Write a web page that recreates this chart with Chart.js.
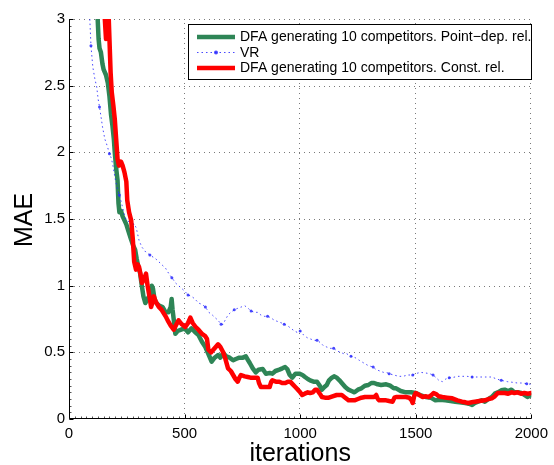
<!DOCTYPE html>
<html>
<head>
<meta charset="utf-8">
<script src="https://cdn.jsdelivr.net/npm/chart.js@4.4.1/dist/chart.umd.min.js"></script>
<style>
  html, body { margin: 0; padding: 0; background: #fff; }
  canvas { display: block; }
</style>
</head>
<body>
<canvas id="chart" width="554" height="465"></canvas>
<script>
// Series names, in legend order
const seriesLabels = [
  'DFA generating 10 competitors. Point\u2212dep. rel.',
  'VR',
  'DFA generating 10 competitors. Const. rel.'
];
const xTitle = 'iterations';
const yTitle = 'MAE';

// Axis ticks
const xTicks = [0, 500, 1000, 1500, 2000];
const yTicks = [0, 0.5, 1, 1.5, 2, 2.5, 3];

// DFA, point-dependent reliability
const dfaPointIter = [110,124,128,132,138,145,150,160,168,175,182,188,194,198,204,210,214,218,225,232,240,248,257,268,278,286,293,300,307,315,322,330,340,350,358,363,370,378,390,405,418,430,440,444,448,455,460,470,485,500,515,530,546,560,575,590,605,617,630,645,655,667,680,695,710,722,737,752,765,775,782,795,808,820,838,852,868,880,893,910,923,935,944,955,966,980,996,1010,1021,1033,1043,1058,1073,1085,1094,1105,1115,1125,1137,1148,1158,1170,1180,1195,1209,1222,1235,1250,1265,1280,1295,1308,1320,1335,1350,1372,1390,1405,1415,1435,1457,1480,1500,1520,1543,1565,1585,1605,1628,1650,1671,1690,1714,1730,1744,1756,1769,1785,1799,1815,1829,1842,1855,1870,1885,1900,1914,1927,1942,1957,1970,1983,2000];
const dfaPointMae = [3.2,3.0,2.85,2.78,2.75,2.66,2.62,2.58,2.52,2.42,2.28,2.2,2.1,2.0,1.88,1.79,1.62,1.55,1.56,1.52,1.49,1.46,1.41,1.35,1.3,1.27,1.2,1.14,1.1,1.0,0.92,0.87,0.9,0.93,1.0,0.98,0.9,0.87,0.85,0.84,0.8,0.8,0.84,0.9,0.82,0.72,0.64,0.66,0.67,0.68,0.65,0.68,0.65,0.63,0.58,0.54,0.48,0.43,0.46,0.48,0.46,0.495,0.47,0.46,0.44,0.45,0.46,0.46,0.47,0.44,0.42,0.38,0.35,0.37,0.375,0.34,0.345,0.34,0.36,0.37,0.38,0.39,0.375,0.33,0.31,0.34,0.34,0.33,0.315,0.3,0.29,0.28,0.28,0.25,0.22,0.24,0.255,0.29,0.31,0.32,0.31,0.29,0.27,0.24,0.22,0.21,0.2,0.22,0.23,0.25,0.255,0.27,0.27,0.26,0.255,0.26,0.25,0.23,0.23,0.21,0.2,0.2,0.195,0.18,0.165,0.16,0.14,0.145,0.14,0.135,0.13,0.125,0.12,0.115,0.105,0.12,0.13,0.14,0.13,0.15,0.165,0.19,0.2,0.215,0.22,0.21,0.22,0.2,0.2,0.195,0.18,0.165,0.18];

// VR
const vrIter = [85,90,95,103,112,120,126,132,140,145,155,165,175,182,188,200,210,218,230,240,248,260,275,290,303,315,333,350,376,400,418,432,445,461,474,487,500,515,530,545,560,575,590,605,620,632,645,658,667,675,688,700,715,730,745,760,775,788,802,816,830,845,859,872,889,905,920,931,945,960,975,987,1000,1015,1030,1045,1060,1073,1090,1100,1115,1130,1145,1160,1175,1188,1201,1220,1238,1256,1275,1295,1316,1329,1345,1360,1372,1385,1405,1427,1445,1465,1487,1500,1520,1543,1560,1575,1585,1600,1615,1630,1645,1658,1680,1700,1722,1744,1770,1800,1829,1850,1870,1897,1920,1940,1957,1980,2000];
const vrMae = [3.1,3.0,2.8,2.64,2.55,2.49,2.4,2.34,2.25,2.19,2.1,2.05,1.99,1.96,1.92,1.8,1.72,1.68,1.6,1.53,1.49,1.48,1.46,1.44,1.34,1.29,1.25,1.23,1.2,1.16,1.13,1.09,1.06,1.02,1.0,0.98,0.96,0.93,0.92,0.9,0.87,0.86,0.84,0.8,0.78,0.76,0.74,0.71,0.71,0.74,0.78,0.8,0.82,0.83,0.84,0.85,0.83,0.81,0.8,0.8,0.78,0.77,0.77,0.76,0.74,0.73,0.72,0.71,0.7,0.68,0.66,0.65,0.66,0.63,0.61,0.6,0.59,0.59,0.57,0.55,0.54,0.53,0.53,0.51,0.5,0.49,0.49,0.47,0.46,0.44,0.42,0.4,0.39,0.37,0.36,0.35,0.35,0.34,0.33,0.32,0.32,0.33,0.33,0.34,0.35,0.345,0.34,0.33,0.315,0.29,0.28,0.3,0.31,0.31,0.32,0.32,0.32,0.315,0.315,0.315,0.315,0.3,0.29,0.28,0.275,0.27,0.27,0.265,0.26];

// DFA, constant reliability
const dfaConstIter = [148,155,160,165,172,176,180,185,192,198,204,210,216,225,232,240,248,252,260,269,276,282,290,297,303,310,316,325,333,340,348,355,362,367,375,389,400,418,430,440,453,465,474,488,503,515,525,535,548,560,575,590,597,603,615,630,645,655,667,675,688,700,710,720,730,737,744,760,773,785,795,805,816,822,830,850,868,875,880,895,910,922,936,947,957,968,979,990,1000,1009,1020,1033,1043,1055,1065,1073,1085,1094,1107,1124,1140,1158,1170,1180,1195,1209,1222,1235,1250,1265,1280,1295,1310,1320,1329,1336,1342,1360,1372,1385,1400,1408,1415,1435,1457,1472,1482,1487,1493,1500,1515,1530,1545,1557,1568,1577,1590,1600,1615,1635,1658,1680,1700,1715,1727,1742,1756,1775,1799,1815,1829,1842,1855,1870,1885,1900,1915,1927,1940,1955,1970,1985,2000];
const dfaConstMae = [3.2,3.0,2.85,2.95,3.0,2.8,2.6,2.45,2.35,2.25,2.1,1.95,1.9,1.93,1.9,1.85,1.78,1.64,1.55,1.49,1.35,1.18,1.12,1.16,1.14,1.08,1.02,1.05,1.09,1.0,0.92,0.84,0.88,0.92,0.88,0.84,0.82,0.77,0.73,0.7,0.67,0.71,0.74,0.71,0.69,0.72,0.76,0.72,0.69,0.67,0.64,0.62,0.6,0.52,0.5,0.53,0.56,0.54,0.5,0.46,0.38,0.36,0.33,0.3,0.28,0.31,0.33,0.32,0.315,0.31,0.31,0.31,0.31,0.27,0.24,0.24,0.24,0.28,0.29,0.28,0.28,0.27,0.27,0.28,0.28,0.26,0.24,0.22,0.2,0.18,0.19,0.2,0.195,0.2,0.22,0.22,0.19,0.165,0.16,0.16,0.17,0.18,0.18,0.18,0.16,0.14,0.14,0.14,0.15,0.16,0.165,0.165,0.165,0.165,0.18,0.15,0.14,0.14,0.14,0.135,0.13,0.16,0.165,0.165,0.165,0.16,0.14,0.12,0.17,0.195,0.18,0.165,0.17,0.165,0.18,0.195,0.185,0.17,0.165,0.16,0.155,0.14,0.13,0.125,0.12,0.125,0.13,0.135,0.14,0.15,0.155,0.17,0.195,0.195,0.195,0.19,0.2,0.195,0.2,0.19,0.195,0.19,0.195];

const toPoints = (xs, ys) => xs.map((x, i) => ({ x: x, y: ys[i] }));

const FONT = "'Liberation Sans', Arial, Helvetica, sans-serif";
const GREEN = '#2E8556';
const BLUE = 'rgba(40,40,255,0.85)';
const RED = '#ff0000';

// MATLAB-style axes: dotted grid, solid left/bottom axes with inward ticks,
// axis titles and an in-plot legend box.
const matlabAxes = {
  id: 'matlabAxes',
  beforeDatasetsDraw(chart) {
    const { ctx, chartArea: a, scales: { x, y } } = chart;
    ctx.save();
    ctx.strokeStyle = '#7a7a7a';
    ctx.lineWidth = 1;
    ctx.setLineDash([1, 4]);
    xTicks.forEach(v => {
      if (v === xTicks[0]) return;
      const px = Math.round(x.getPixelForValue(v)) - 0.5;
      ctx.beginPath(); ctx.moveTo(px, a.bottom); ctx.lineTo(px, a.top); ctx.stroke();
    });
    yTicks.forEach(v => {
      if (v === yTicks[0]) return;
      const py = Math.round(y.getPixelForValue(v)) + 0.5;
      ctx.beginPath(); ctx.moveTo(a.left, py); ctx.lineTo(a.right, py); ctx.stroke();
    });
    ctx.restore();
  },
  afterDatasetsDraw(chart) {
    const { ctx, chartArea: a, scales: { x, y } } = chart;
    ctx.save();
    const ax = a.left + 0.5;
    const ay = a.bottom - 0.5;
    // minor ticks
    ctx.strokeStyle = '#555';
    ctx.lineWidth = 1;
    ctx.beginPath();
    for (let v = x.min; v <= x.max; v += 25) {
      const px = Math.round(x.getPixelForValue(v)) + 0.5;
      ctx.moveTo(px, ay); ctx.lineTo(px, ay - 2);
    }
    for (let v = y.min; v <= y.max + 1e-9; v += 0.05) {
      const py = Math.round(y.getPixelForValue(v)) + 0.5;
      ctx.moveTo(ax, py); ctx.lineTo(ax + 2, py);
    }
    ctx.stroke();
    // major ticks
    ctx.strokeStyle = '#000';
    ctx.beginPath();
    xTicks.forEach(v => {
      const px = Math.round(x.getPixelForValue(v)) + 0.5;
      ctx.moveTo(px, ay); ctx.lineTo(px, ay - 4);
    });
    yTicks.forEach(v => {
      const py = Math.round(y.getPixelForValue(v)) + 0.5;
      ctx.moveTo(ax, py); ctx.lineTo(ax + 4, py);
    });
    ctx.stroke();
    // axis lines
    ctx.beginPath();
    ctx.moveTo(ax, a.top); ctx.lineTo(ax, ay); ctx.lineTo(a.right, ay);
    ctx.stroke();
    ctx.restore();
  },
  afterDraw(chart) {
    const { ctx, chartArea: a } = chart;
    ctx.save();
    // axis titles
    ctx.fillStyle = '#000';
    ctx.font = '25px ' + FONT;
    ctx.textAlign = 'center';
    ctx.textBaseline = 'alphabetic';
    ctx.fillText(xTitle, (a.left + a.right) / 2, 461);
    ctx.translate(32, (a.top + a.bottom) / 2 + 1);
    ctx.rotate(-Math.PI / 2);
    ctx.fillText(yTitle, 0, 0);
    ctx.restore();

    // legend
    ctx.save();
    const bx = 188.5, by = 24.5, bw = 343, bh = 55;
    ctx.fillStyle = '#fff';
    ctx.fillRect(bx, by, bw, bh);
    ctx.strokeStyle = '#000';
    ctx.lineWidth = 1;
    ctx.strokeRect(bx, by, bw, bh);
    ctx.font = '14px ' + FONT;
    ctx.textAlign = 'left';
    ctx.textBaseline = 'middle';
    const rows = [37, 52.5, 68];
    chart.data.datasets.forEach((ds, i) => {
      const ly = rows[i];
      ctx.save();
      ctx.strokeStyle = ds.borderColor;
      ctx.lineWidth = ds.borderWidth;
      ctx.setLineDash(ds.borderDash || []);
      ctx.beginPath();
      ctx.moveTo(197, ly); ctx.lineTo(235, ly);
      ctx.stroke();
      if (ds.legendMarker) {
        ctx.fillStyle = ds.borderColor;
        ctx.beginPath(); ctx.arc(216, ly, 2, 0, Math.PI * 2); ctx.fill();
      }
      ctx.restore();
      ctx.fillStyle = '#000';
      ctx.fillText(ds.label, 240, ly + 0.5);
    });
    ctx.restore();
  }
};

new Chart(document.getElementById('chart'), {
  type: 'line',
  data: {
    datasets: [
      {
        label: seriesLabels[0],
        data: toPoints(dfaPointIter, dfaPointMae),
        borderColor: GREEN,
        borderWidth: 4.5,
        pointRadius: 0,
        borderJoinStyle: 'round',
        borderCapStyle: 'round',
        clip: 0,
        order: 2
      },
      {
        label: seriesLabels[1],
        data: toPoints(vrIter, vrMae),
        borderColor: BLUE,
        borderWidth: 1,
        borderDash: [1.5, 3],
        pointRadius: ctx => (ctx.dataIndex % 5 === 2 ? 1.5 : 0),
        pointBackgroundColor: BLUE,
        pointBorderWidth: 0,
        legendMarker: true,
        clip: 0,
        order: 1
      },
      {
        label: seriesLabels[2],
        data: toPoints(dfaConstIter, dfaConstMae),
        borderColor: RED,
        borderWidth: 4.5,
        pointRadius: 0,
        borderJoinStyle: 'round',
        borderCapStyle: 'round',
        clip: 0,
        order: 0
      }
    ]
  },
  options: {
    responsive: false,
    animation: false,
    devicePixelRatio: 1,
    layout: { padding: { top: 19, right: 17, left: 0, bottom: 0 } },
    plugins: { legend: { display: false }, tooltip: { enabled: false } },
    elements: { line: { tension: 0 } },
    scales: {
      x: {
        type: 'linear',
        min: xTicks[0],
        max: xTicks[xTicks.length - 1],
        afterBuildTicks: s => { s.ticks = xTicks.map(v => ({ value: v })); },
        afterFit: s => { s.height = 46; },
        grid: { display: false, drawTicks: false },
        border: { display: false },
        ticks: { color: '#000', font: { family: FONT, size: 15 }, padding: 6, maxRotation: 0,
                 callback: v => String(v) }
      },
      y: {
        type: 'linear',
        min: yTicks[0],
        max: yTicks[yTicks.length - 1],
        afterBuildTicks: s => { s.ticks = yTicks.map(v => ({ value: v })); },
        afterFit: s => { s.width = 69; },
        grid: { display: false, drawTicks: false },
        border: { display: false },
        ticks: { color: '#000', font: { family: FONT, size: 15 }, padding: 4,
                 callback: v => String(v) }
      }
    }
  },
  plugins: [matlabAxes]
});
</script>
</body>
</html>
